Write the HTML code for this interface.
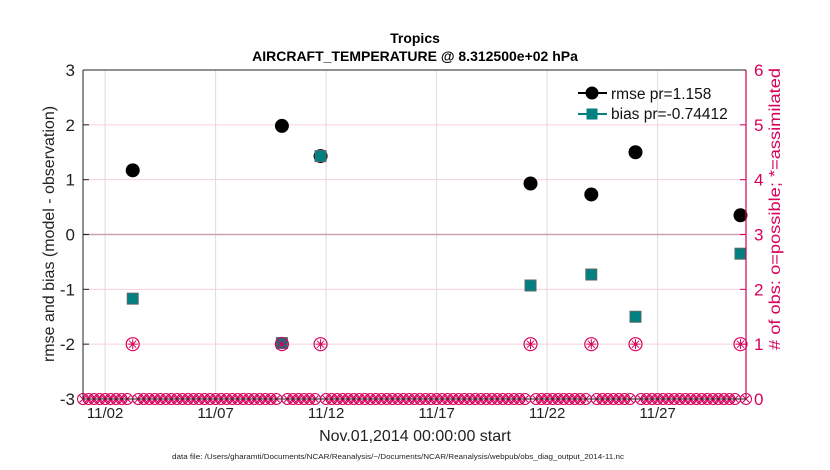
<!DOCTYPE html>
<html><head><meta charset="utf-8"><style>
body{margin:0;background:#fff;}
svg{display:block;font-family:"Liberation Sans",sans-serif;}
</style></head><body>
<svg id="chart" width="830" height="470">
<g id="grid"></g><g id="marks"></g><g id="axes"></g>
</svg>
<script>
const xTickDays=[1,6,11,16,21,26];
const xTickLabels=["11/02","11/07","11/12","11/17","11/22","11/27"];
const yTicks=[-3,-2,-1,0,1,2,3];
const y2Ticks=[0,1,2,3,4,5,6];
const dataDays=[2.25,9,10.75,20.25,23,25,29.75];
const rmseVals=[1.17,1.98,1.43,0.93,0.73,1.5,0.35];
const biasVals=[-1.17,-1.98,1.43,-0.93,-0.73,-1.5,-0.35];
const usedCounts=[1,1,1,1,1,1,1];
const possibleDay0=0, possibleStep=0.25;
const possibleCounts=[0,0,0,0,0,0,0,0,0,1,0,0,0,0,0,0,0,0,0,0,0,0,0,0,0,0,0,0,0,0,0,0,0,0,0,0,1,0,0,0,0,0,0,1,0,0,0,0,0,0,0,0,0,0,0,0,0,0,0,0,0,0,0,0,0,0,0,0,0,0,0,0,0,0,0,0,0,0,0,0,0,1,0,0,0,0,0,0,0,0,0,0,1,0,0,0,0,0,0,0,1,0,0,0,0,0,0,0,0,0,0,0,0,0,0,0,0,0,0,1,0];
const L=83,R=746,T=70,B=399;
const X=d=>L+(R-L)*d/30;
const Y=v=>B-(B-T)*(v+3)/6;
const Y2=c=>B-(B-T)*c/6;
const NS="http://www.w3.org/2000/svg";
function mk(tag,attrs,parent,text){const e=document.createElementNS(NS,tag);for(const k in attrs)e.setAttribute(k,attrs[k]);if(text!==undefined)e.textContent=text;parent.appendChild(e);return e;}
const grid=document.getElementById('grid'),marks=document.getElementById('marks'),axes=document.getElementById('axes');
const C="#d6005a";
xTickDays.forEach((d,i)=>{
 let g=mk('line',{x1:X(d),x2:X(d),y1:T,y2:B,stroke:'#dcdcdc','stroke-width':1},grid);
 
 
 let t=mk('text',{x:X(d),y:B+19,'font-size':15,'text-anchor':'middle',fill:'#222'},axes,xTickLabels[i]);
 
 
});
y2Ticks.forEach(c=>{
 let g=mk('line',{x1:L,x2:R,y1:Y2(c),y2:Y2(c),stroke:'#f6d0dc','stroke-width':1},grid);
 
 
 mk('line',{x1:R-6,x2:R,y1:Y2(c),y2:Y2(c),stroke:C},axes);
 let t=mk('text',{x:R+8,y:Y2(c)+6,'font-size':17,fill:C},axes,String(c));
 
 
});
yTicks.forEach(v=>{
 mk('line',{x1:L,x2:L+6,y1:Y(v),y2:Y(v),stroke:'#222'},axes);
 let t=mk('text',{x:L-8,y:Y(v)+6,'font-size':17,'text-anchor':'end',fill:'#222'},axes,String(v));
 
 
});
let z=mk('line',{x1:L,x2:R,y1:Y(0),y2:Y(0),stroke:'#c9a3ad','stroke-width':1.5},grid);

possibleCounts.forEach((c,i)=>{
 if(c!==0)return;
 const x=X(possibleDay0+i*possibleStep),y=Y2(c);
 const g=mk('g',{},marks);
 
 
 mk('circle',{cx:x,cy:y,r:5.5,fill:'none',stroke:C,'stroke-width':1},g);
 mk('path',{d:`M${x-3.5} ${y-3.5}L${x+3.5} ${y+3.5}M${x-3.5} ${y+3.5}L${x+3.5} ${y-3.5}`,stroke:C,'stroke-width':1},g);
});
dataDays.forEach((d,i)=>{
 const c=mk('circle',{cx:X(d),cy:Y(rmseVals[i]),r:7,fill:'#000'},marks);
 
 
});
dataDays.forEach((d,i)=>{
 const s=mk('rect',{x:X(d)-5.5,y:Y(biasVals[i])-5.5,width:11,height:11,fill:'#008080',stroke:'#5a6a6a'},marks);
 
 
});
dataDays.forEach((d,i)=>{
 const x=X(d),y=Y2(usedCounts[i]);
 const g=mk('g',{},marks);
 
 
 mk('circle',{cx:x,cy:y,r:6.5,fill:'none',stroke:C,'stroke-width':1.2},g);
 mk('path',{d:`M${x-5} ${y}L${x+5} ${y}M${x} ${y-5}L${x} ${y+5}M${x-3.5} ${y-3.5}L${x+3.5} ${y+3.5}M${x-3.5} ${y+3.5}L${x+3.5} ${y-3.5}`,stroke:C,'stroke-width':1},g);
});
mk('line',{x1:L,x2:L,y1:T,y2:B,stroke:'#222'},axes);
mk('line',{x1:L,x2:R,y1:T,y2:T,stroke:'#222'},axes);
mk('line',{x1:L,x2:R,y1:B,y2:B,stroke:'#222'},axes);
mk('line',{x1:R,x2:R,y1:T,y2:B,stroke:C,'stroke-width':1.2},axes);
</script>
<svg width="830" height="470" style="position:absolute;left:0;top:0">
<text x="415" y="43" font-size="14" font-weight="bold" text-anchor="middle">Tropics</text>
<text x="415" y="61" font-size="14" font-weight="bold" text-anchor="middle">AIRCRAFT_TEMPERATURE @ 8.312500e+02 hPa</text>
<text transform="translate(54,234) rotate(-90)" font-size="16" text-anchor="middle" fill="#222">rmse and bias (model - observation)</text>
<text transform="translate(780,209) rotate(-90)" font-size="15.5" text-anchor="middle" textLength="282" lengthAdjust="spacingAndGlyphs" fill="#d6005a"># of obs: o=possible; *=assimilated</text>
<text x="415" y="441" font-size="16" text-anchor="middle" fill="#222">Nov.01,2014 00:00:00 start</text>
<text x="398" y="459" font-size="7.5" text-anchor="middle" textLength="452" lengthAdjust="spacingAndGlyphs" fill="#222">data file: /Users/gharamti/Documents/NCAR/Reanalysis/~/Documents/NCAR/Reanalysis/webpub/obs_diag_output_2014-11.nc</text>
<g>
<line x1="578" y1="93" x2="607" y2="93" stroke="#000" stroke-width="2"/>
<circle cx="592" cy="93" r="6.5" fill="#000"/>
<text x="611" y="99" font-size="15.5" fill="#111">rmse pr=1.158</text>
<line x1="578" y1="114" x2="607" y2="114" stroke="#008080" stroke-width="2"/>
<rect x="586.5" y="108.5" width="11" height="11" fill="#008080"/>
<text x="611" y="119" font-size="15.5" fill="#111">bias pr=-0.74412</text>
</g>
</svg>
</body></html>
